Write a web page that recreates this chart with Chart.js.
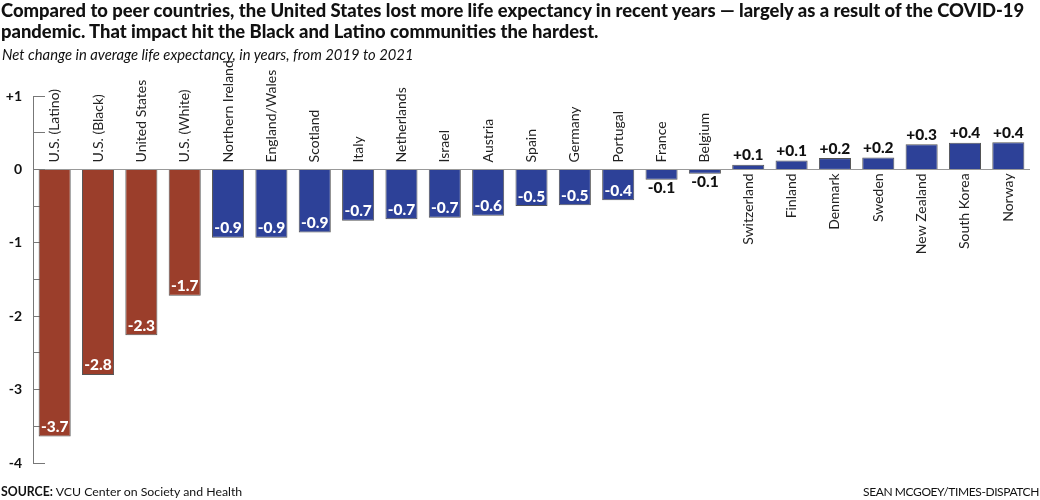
<!DOCTYPE html>
<html><head><meta charset="utf-8">
<script src="https://cdn.jsdelivr.net/npm/chart.js@4"></script>
<style>
html,body{margin:0;padding:0;background:#fff;}
#wrap{position:relative;width:1040px;height:500px;overflow:hidden;font-family:Lato,sans-serif;color:#111;}
#t{position:absolute;left:1px;top:0px;font-weight:900;font-size:18.4px;line-height:20.5px;white-space:nowrap;z-index:2}
#s{position:absolute;left:2px;top:45px;font-style:italic;font-size:14.8px;z-index:2}
#src{position:absolute;left:1px;top:484px;font-size:12.3px;z-index:2}
#cr{position:absolute;right:1px;top:484px;font-size:12px;letter-spacing:-0.4px;z-index:2}
canvas{position:absolute;left:0;top:0}
</style></head>
<body>
<div id="wrap">
<div id="t">Compared to peer countries, the United States lost more life expectancy in recent years — largely as a result of the COVID-19<br>pandemic. That impact hit the Black and Latino communities the hardest.</div>
<div id="s">Net change in average life expectancy, in years, from 2019 to 2021</div>
<canvas id="c" width="1040" height="500"></canvas>
<div id="src"><b>SOURCE:</b> VCU Center on Society and Health</div>
<div id="cr">SEAN MCGOEY/TIMES-DISPATCH</div>
</div>
<script>
const categories = ['U.S. (Latino)','U.S. (Black)','United States','U.S. (White)','Northern Ireland','England/Wales','Scotland','Italy','Netherlands','Israel','Austria','Spain','Germany','Portugal','France','Belgium','Switzerland','Finland','Denmark','Sweden','New Zealand','South Korea','Norway'];
const values = [-3.64,-2.80,-2.26,-1.72,-0.93,-0.93,-0.86,-0.70,-0.68,-0.66,-0.63,-0.50,-0.49,-0.42,-0.14,-0.06,0.064,0.12,0.154,0.163,0.344,0.363,0.371];
const valueLabels = ['-3.7','-2.8','-2.3','-1.7','-0.9','-0.9','-0.9','-0.7','-0.7','-0.7','-0.6','-0.5','-0.5','-0.4','-0.1','-0.1','+0.1','+0.1','+0.2','+0.2','+0.3','+0.4','+0.4'];
const groups = ['us','us','us','us','peer','peer','peer','peer','peer','peer','peer','peer','peer','peer','peer','peer','peer','peer','peer','peer','peer','peer','peer'];
const yMin = -4, yMax = 1, yStep = 0.5;
const yTickLabels = {'1':'+1','0':'0','-1':'-1','-2':'-2','-3':'-3','-4':'-4'};

const groupColors = {us:'#9b3e2b', peer:'#2d4198'};

const labelPlugin = {
  id:'barLabels',
  afterDatasetsDraw(chart){
    const {ctx, scales:{y}} = chart;
    const meta = chart.getDatasetMeta(0);
    const y0 = y.getPixelForValue(0);
    categories.forEach((c,i)=>{
      const bar = meta.data[i];
      const v = values[i];
      const cx = bar.x;
      ctx.save();
      ctx.translate(cx, y0);
      ctx.rotate(-Math.PI/2);
      ctx.font = '14px Lato';
      ctx.fillStyle = '#222';
      ctx.textBaseline = 'middle';
      if (v < 0) { ctx.textAlign = 'left'; ctx.fillText(c, 7, 0); }
      else { ctx.textAlign = 'right'; ctx.fillText(c, -4, 0); }
      ctx.restore();
      ctx.save();
      ctx.font = '900 15.5px Lato';
      ctx.textAlign = 'center';
      ctx.textBaseline = 'middle';
      if (v < -0.3) { ctx.fillStyle = '#fff'; ctx.fillText(valueLabels[i], cx, bar.y - 9.5); }
      else if (v < 0) { ctx.fillStyle = '#111'; ctx.fillText(valueLabels[i], cx, bar.y + 8); }
      else { ctx.fillStyle = '#111'; ctx.fillText(valueLabels[i], cx, bar.y - 9.5); }
      ctx.restore();
    });
  }
};

new Chart(document.getElementById('c'), {
  type:'bar',
  data:{
    labels: categories,
    datasets:[{
      data: values,
      backgroundColor: groups.map(g=>groupColors[g]),
      borderColor:'#555',
      borderWidth:1,
      barPercentage:0.74,
      categoryPercentage:1
    }]
  },
  options:{
    responsive:false,
    animation:false,
    devicePixelRatio:1,
    layout:{padding:{top:96,bottom:37,left:0,right:10}},
    plugins:{legend:{display:false},tooltip:{enabled:false},title:{display:false}},
    scales:{
      x:{display:false, offset:true},
      y:{
        min:yMin, max:yMax,
        afterFit(s){ s.width = 33; },
        ticks:{
          stepSize:yStep, padding:23, color:'#111',
          font:{family:'Lato', weight:'bold', size:14},
          callback:(v)=> (yTickLabels[String(v)] !== undefined ? yTickLabels[String(v)] : '')
        },
        grid:{
          drawTicks:true, tickLength:-12,
          color:(ctx)=> (ctx.tick && ctx.tick.value === 0 ? '#999' : 'rgba(0,0,0,0)'),
          tickColor:'#777', lineWidth:1
        },
        border:{display:true, color:'#777', width:1}
      }
    }
  },
  plugins:[labelPlugin]
});
</script>
</body></html>
